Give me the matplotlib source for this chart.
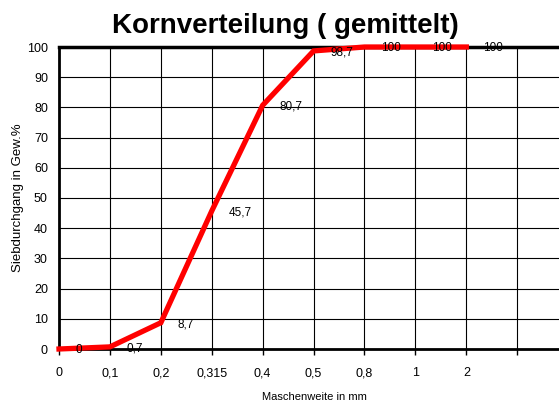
import numpy as np
import matplotlib.pyplot as plt

# Sieve data (mesh size in mm, passing in weight-%)
sizes = ["0", "0,1", "0,2", "0,315", "0,4", "0,5", "0,8", "1", "2"]
passing = [0, 0.7, 8.7, 45.7, 80.7, 98.7, 100, 100, 100]
point_labels = ["0", "0,7", "8,7", "45,7", "80,7", "98,7", "100", "100", "100"]

plt.rcParams['font.family'] = ['Liberation Sans', 'DejaVu Sans']

fig = plt.figure(figsize=(5.59, 4.01), dpi=100)
ax = fig.add_axes([59/559, 1-349/401, 500/559, 302/401])

x = np.arange(len(sizes))
ax.plot(x, passing, color="#ff0000", lw=3.8, solid_joinstyle="miter", clip_on=False, zorder=3)

for xi, yi, lab in zip(x, passing, point_labels):
    ax.annotate(lab, (xi, yi), xytext=(12, -1), textcoords="offset points",
                ha="left", va="center", fontsize=8.5, zorder=4)

ax.set_xlim(0, 9.82)
ax.set_ylim(0, 100)
ax.set_xticks(list(x) + [9])
ax.set_xticklabels(sizes + [""], fontsize=9)
ax.set_yticks(range(0, 101, 10))
ax.tick_params(axis="y", length=0, labelsize=9, pad=8)
ax.tick_params(axis="x", length=4, width=1, direction="out", pad=9)
ax.grid(True, color="black", lw=0.8)

ax.spines["left"].set_linewidth(2)
ax.spines["bottom"].set_linewidth(2)
ax.spines["top"].set_linewidth(2.5)
ax.spines["right"].set_visible(False)

ax.set_xlabel("Maschenweite in mm", fontsize=8, labelpad=9)
ax.xaxis.label.set_x(0.51)
ax.set_ylabel("Siebdurchgang in Gew.%", fontsize=9.5, labelpad=2)
fig.text(0.51, 1-33/401, "Kornverteilung ( gemittelt)", ha="center", va="baseline",
         fontsize=20, fontweight="bold")

plt.savefig("out.png", dpi=100)
